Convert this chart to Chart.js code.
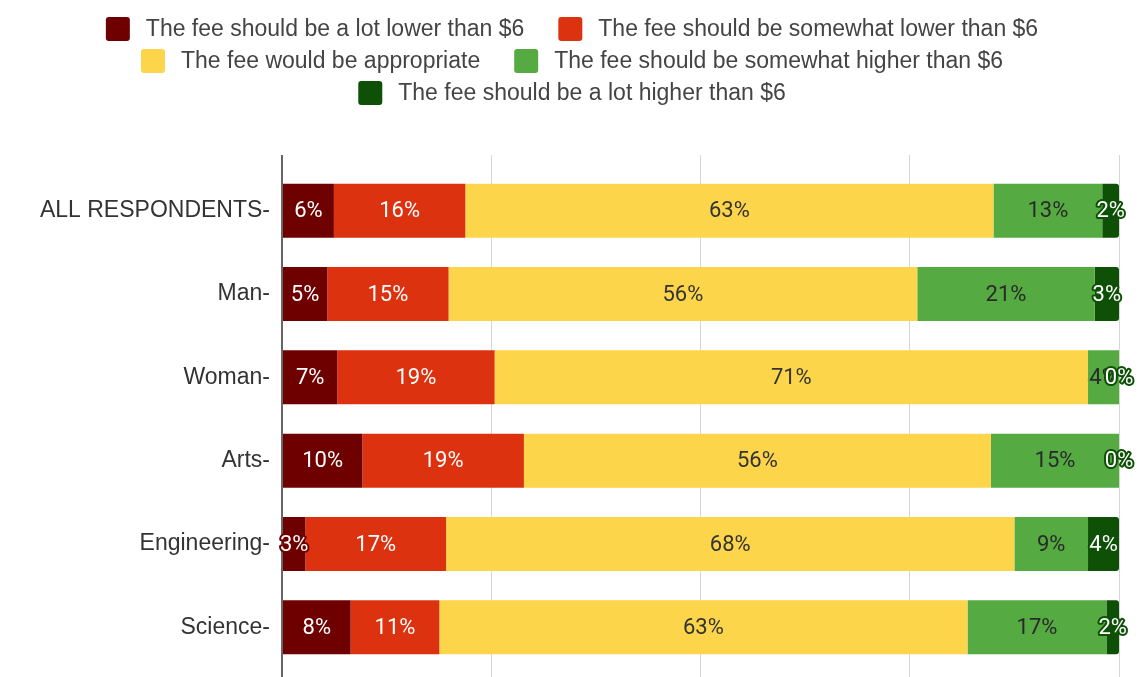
<!DOCTYPE html>
<html>
<head>
<meta charset="utf-8">
<script src="https://cdn.jsdelivr.net/npm/chart.js@4/dist/chart.umd.min.js"></script>
<style>
  html, body { margin: 0; padding: 0; background: #fff; }
  #wrap { width: 1139px; height: 677px; position: relative; }
</style>
</head>
<body>
<div id="wrap"><canvas id="feeChart"></canvas></div>
<script>
const categories = ["ALL RESPONDENTS", "Man", "Woman", "Arts", "Engineering", "Science"];
const seriesNames = [
  "The fee should be a lot lower than $6",
  "The fee should be somewhat lower than $6",
  "The fee would be appropriate",
  "The fee should be somewhat higher than $6",
  "The fee should be a lot higher than $6",
];
// shares in %
const aLotLower = [6.2, 5.4, 6.6, 9.6, 2.8, 8.2];
const somewhatLower = [15.7, 14.5, 18.8, 19.3, 16.8, 10.6];
const appropriate = [63.1, 56.0, 70.9, 55.8, 67.9, 63.1];
const somewhatHigher = [13.0, 21.2, 3.7, 15.3, 8.8, 16.6];
const aLotHigher = [2.0, 2.9, 0, 0, 3.7, 1.5];

const colors = ["#6e0000", "#dc3210", "#fdd54b", "#55aa42", "#0e5006"];
const labelColors = ["#ffffff", "#ffffff", "#333333", "#2a2a2a", "#ffffff"];
const fontFamily = "'Liberation Sans', Arial, sans-serif";

// value labels in the middle of each segment, outlined with the bar colour
const barLabels = {
  id: "barLabels",
  afterDatasetsDraw(chart) {
    const ctx = chart.ctx;
    ctx.save();
    ctx.font = "22px Roboto";
    ctx.textAlign = "center";
    ctx.textBaseline = "middle";
    ctx.lineJoin = "round";
    chart.data.datasets.forEach((ds, i) => {
      chart.getDatasetMeta(i).data.forEach((bar, j) => {
        const text = Math.round(ds.data[j]) + "%";
        const x = (bar.x + bar.base) / 2;
        ctx.lineWidth = 4;
        ctx.strokeStyle = ds.backgroundColor;
        ctx.strokeText(text, x, bar.y + 1);
        ctx.fillStyle = labelColors[i];
        ctx.fillText(text, x, bar.y + 1);
      });
    });
    ctx.restore();
  },
};

// legend drawn by hand: wider gaps than the built-in one allows
const topLegend = {
  id: "topLegend",
  afterDraw(chart) {
    const ctx = chart.ctx;
    const box = 24, gap = 16, itemGap = 34, rowH = 32, maxW = 1000, cx = 572, top = 17;
    ctx.save();
    ctx.font = "23px " + fontFamily;
    const items = chart.data.datasets.map((ds) => ({
      text: ds.label,
      color: ds.backgroundColor,
      w: box + gap + ctx.measureText(ds.label).width,
    }));
    const rows = [];
    let row = [], rowW = 0;
    items.forEach((it) => {
      const w = row.length ? rowW + itemGap + it.w : it.w;
      if (row.length && w > maxW) {
        rows.push({ row, rowW });
        row = [it];
        rowW = it.w;
      } else {
        row.push(it);
        rowW = w;
      }
    });
    rows.push({ row, rowW });

    ctx.textBaseline = "middle";
    ctx.textAlign = "left";
    rows.forEach((r, ri) => {
      let x = cx - r.rowW / 2;
      const y = top + ri * rowH;
      r.row.forEach((it) => {
        ctx.fillStyle = it.color;
        ctx.beginPath();
        ctx.roundRect(x, y, box, box, 3);
        ctx.fill();
        ctx.fillStyle = "#444444";
        ctx.fillText(it.text, x + box + gap, y + box / 2 + 1);
        x += it.w + itemGap;
      });
    });
    ctx.restore();
  },
};

const axisColor = (c) => (c.index === 0 ? "#666666" : "#d6d6d6");
const axisWidth = (c) => (c.index === 0 ? 2 : 1);

function initializeChart() {
  Chart.defaults.font.family = fontFamily;
  const ctx = document.getElementById("feeChart").getContext("2d");
  const series = [aLotLower, somewhatLower, appropriate, somewhatHigher, aLotHigher];

  new Chart(ctx, {
    type: "bar",
    data: {
      labels: categories,
      datasets: series.map((values, i) => ({
        label: seriesNames[i],
        data: values,
        backgroundColor: colors[i],
        borderWidth: 0,
        borderRadius: i === 4 ? 3 : 0,
        barPercentage: 0.648,
        categoryPercentage: 1,
      })),
    },
    options: {
      indexAxis: "y",
      responsive: true,
      maintainAspectRatio: false,
      animation: false,
      layout: { padding: { top: 155, left: 24, right: 20, bottom: 0 } },
      scales: {
        x: {
          position: "top",
          stacked: true,
          min: 0,
          max: 100,
          ticks: { display: false, stepSize: 25 },
          grid: { color: axisColor, lineWidth: axisWidth, tickLength: 14 },
          border: { display: false },
        },
        x2: {
          type: "linear",
          position: "bottom",
          min: 0,
          max: 100,
          ticks: { display: false, stepSize: 25 },
          grid: { color: axisColor, lineWidth: axisWidth, tickLength: 8, drawOnChartArea: false },
          border: { display: false },
        },
        y: {
          stacked: true,
          afterFit: (scale) => {
            scale.width = 258;
            scale.paddingTop = 0;
            scale.paddingBottom = 0;
          },
          grid: { display: false, drawTicks: false },
          border: { display: false },
          ticks: {
            color: "#333333",
            font: { size: 23 },
            padding: 12,
            callback: (value, index) => categories[index] + "-",
          },
        },
      },
      plugins: {
        legend: { display: false },
        tooltip: { enabled: false },
      },
    },
    plugins: [barLabels, topLegend],
  });
}

if (document.readyState === "loading") {
  document.addEventListener("DOMContentLoaded", initializeChart);
} else {
  initializeChart();
}
</script>
</body>
</html>
